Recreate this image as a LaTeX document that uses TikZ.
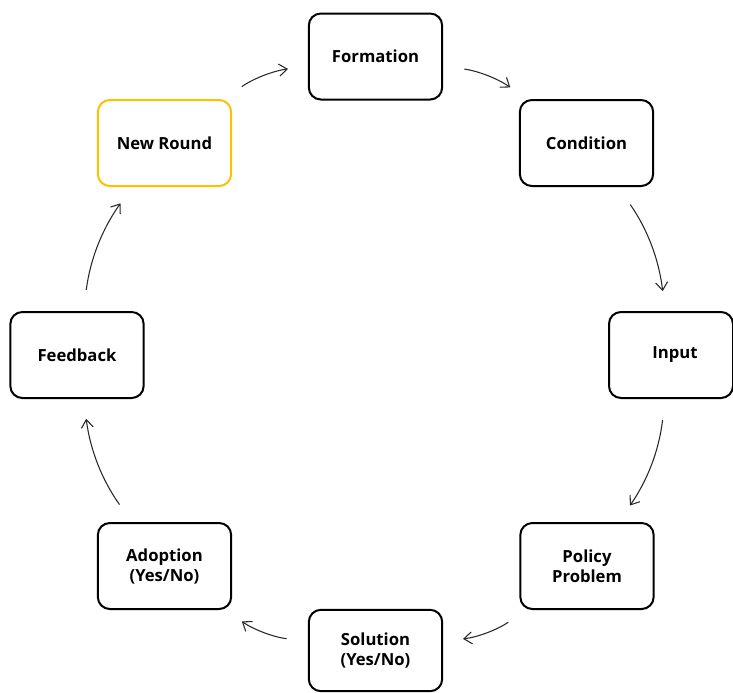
\documentclass[tikz,border=0pt]{standalone}
\usepackage{fontspec}
\setmainfont{Open Sans}
\usetikzlibrary{arrows.meta}
\definecolor{rand}{RGB}{0,0,0}
\definecolor{gold}{RGB}{255,192,0}
\definecolor{pfeil}{RGB}{40,40,40}

\begin{document}
\begin{tikzpicture}[x=0.75pt, y=-0.75pt,
    stage/.style={draw=rand, line width=1.5pt, rounded corners=9pt, align=center,
        minimum width=100pt, minimum height=64.5pt, font=\bfseries\fontsize{12.5}{15}\selectfont},
    flow/.style={pfeil, line width=0.8pt, -{Straight Barb[length=6pt, width=9pt]}, bend left=14,
        shorten <=16pt, shorten >=15pt}]

    \useasboundingbox (0,0) rectangle (733,693);

    \node[stage] (formation) at (375.5,56.5) {Formation};
    \node[stage] (condition) at (586.5,143) {Condition};
    \node[stage, minimum width=93pt] (input) at (671,355) {\hspace*{6pt}Input};
    \node[stage] (policy) at (587,566) {Policy\\Problem};
    \node[stage, minimum height=61pt] (solution) at (375.5,650.5) {Solution\\(Yes/No)};
    \node[stage] (adoption) at (164.5,566) {Adoption\\(Yes/No)};
    \node[stage] (feedback) at (77,355) {Feedback};
    \node[stage, draw=gold] (newround) at (164.5,143) {New Round};

    % the cycle
    \draw[flow] (formation) to (condition);
    \draw[flow] (condition) to (input);
    \draw[flow] (input) to (policy);
    \draw[flow] (policy) to (solution);
    \draw[flow] (solution) to (adoption);
    \draw[flow] (adoption) to (feedback);
    \draw[flow] (feedback) to (newround);
    \draw[flow] (newround) to (formation);

\end{tikzpicture}
\end{document}
